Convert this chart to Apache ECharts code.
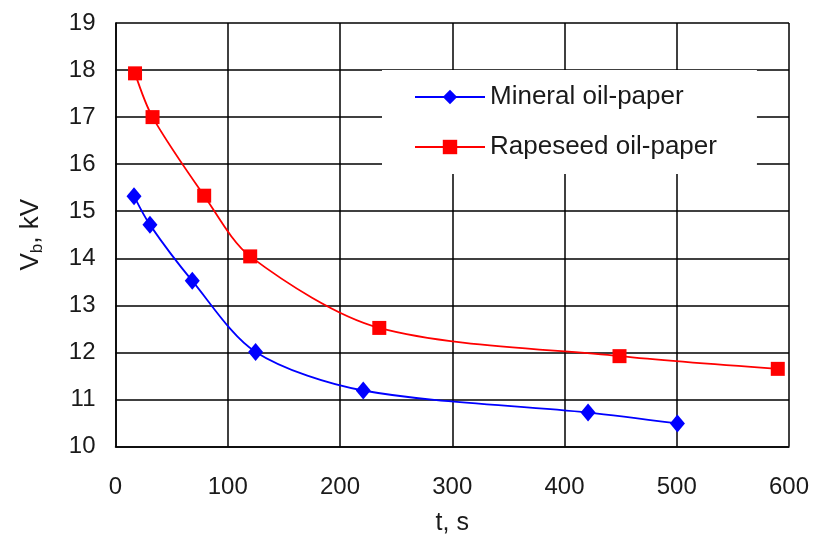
<!DOCTYPE html>
<html><head><meta charset="utf-8">
<script src="https://cdn.jsdelivr.net/npm/echarts@6/dist/echarts.min.js"></script>
<style>html,body{margin:0;padding:0;background:#fff}#c{width:817px;height:544px}</style>
</head><body><div id="c"></div>
<script>
const mineralT = [16.5, 30.7, 68.4, 124.8, 220.7, 421, 500.6];
const mineralV = [15.32, 14.71, 13.52, 12.01, 11.19, 10.72, 10.49];
const rapeT = [17.4, 33, 79, 120, 235, 449, 590];
const rapeV = [17.93, 17.0, 15.33, 14.04, 12.52, 11.92, 11.65];
const xTicks = [0, 100, 200, 300, 400, 500, 600];
const yTicks = [10, 11, 12, 13, 14, 15, 16, 17, 18, 19];

const txt = '#1a1a1a';
const font = 'Liberation Sans, Arial, sans-serif';
const chart = echarts.init(document.getElementById('c'));
chart.setOption({
  animation: false,
  backgroundColor: '#fff',
  grid: {left: 115.5, right: 28, top: 23, bottom: 97.5, containLabel: false},
  legend: {
    orient: 'vertical', left: 382, top: 70,
    backgroundColor: '#fff',
    padding: [14, 40, 14, 32],
    itemGap: 24, itemWidth: 70, itemHeight: 18,
    textStyle: {fontSize: 26, color: txt, fontFamily: font},
    data: ['Mineral oil-paper', 'Rapeseed oil-paper']
  },
  xAxis: {
    type: 'value', min: xTicks[0], max: xTicks[xTicks.length - 1], interval: 100,
    name: 't, s', nameLocation: 'middle', nameGap: 64,
    nameTextStyle: {fontSize: 25, color: txt, fontFamily: font, verticalAlign: 'top'},
    axisLine: {show: true, lineStyle: {color: '#000', width: 1.5}},
    axisTick: {show: false},
    axisLabel: {fontSize: 24, color: txt, fontFamily: font, margin: 29},
    splitLine: {show: true, lineStyle: {color: '#000', width: 1.5}}
  },
  yAxis: {
    type: 'value', min: yTicks[0], max: yTicks[yTicks.length - 1], interval: 1,
    name: '{v|V}{s|b}{v|, kV}', nameLocation: 'middle', nameGap: 70, nameRotate: 90,
    nameTextStyle: {
      color: txt, fontFamily: font,
      rich: {v: {fontSize: 26, color: txt, fontFamily: font}, s: {fontSize: 17, color: txt, fontFamily: font, verticalAlign: 'bottom', padding: [12, 0, 0, 0]}}
    },
    axisLine: {show: true, lineStyle: {color: '#000', width: 1.5}},
    axisTick: {show: false},
    axisLabel: {fontSize: 24, color: txt, fontFamily: font, margin: 20},
    splitLine: {show: true, lineStyle: {color: '#000', width: 1.5}}
  },
  series: [
    {
      name: 'Mineral oil-paper', type: 'line', smooth: 0.3,
      data: mineralT.map((t, i) => [t, mineralV[i]]),
      symbol: 'diamond', symbolSize: [15, 18],
      itemStyle: {color: '#0000ff'}, lineStyle: {color: '#0000ff', width: 1.8}
    },
    {
      name: 'Rapeseed oil-paper', type: 'line', smooth: 0.3,
      data: rapeT.map((t, i) => [t, rapeV[i]]),
      symbol: 'rect', symbolSize: 14,
      itemStyle: {color: '#ff0000'}, lineStyle: {color: '#ff0000', width: 1.8}
    }
  ]
});
</script></body></html>
